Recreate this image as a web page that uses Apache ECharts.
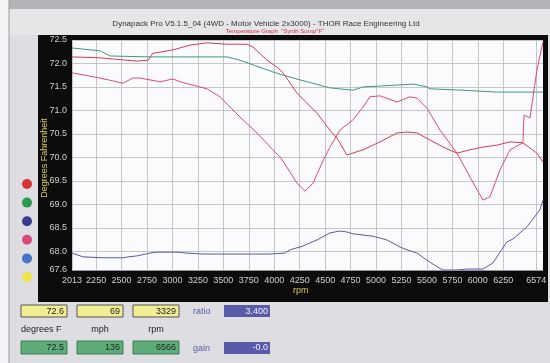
<!DOCTYPE html>
<html>
<head>
<meta charset="utf-8">
<script src="https://cdn.jsdelivr.net/npm/echarts@6/dist/echarts.min.js"></script>
<style>
html,body{margin:0;padding:0;background:#dedee2;}
#chart{width:550px;height:363px;}
</style>
</head>
<body>
<div id="chart"></div>
<script>
// ---- data ----
const xTicks = [2013, 2250, 2500, 2750, 3000, 3250, 3500, 3750, 4000, 4250, 4500, 4750, 5000, 5250, 5500, 5750, 6000, 6250, 6574];
const yTicks = [67.6, 68.0, 68.5, 69.0, 69.5, 70.0, 70.5, 71.0, 71.5, 72.0, 72.5];

const greenRpm  = [2013, 2288, 2386, 2760, 3536, 3663, 3987, 4086, 4322, 4547, 4773, 4872, 5039, 5372, 5500, 5530, 5854, 6188, 6640];
const greenTemp = [72.33, 72.27, 72.16, 72.14, 72.14, 72.07, 71.82, 71.75, 71.61, 71.48, 71.43, 71.50, 71.52, 71.56, 71.50, 71.46, 71.43, 71.39, 71.39];

const redRpm  = [2013, 2288, 2651, 2760, 2809, 2877, 3005, 3172, 3339, 3536, 3732, 3791, 3929, 4027, 4086, 4223, 4420, 4547, 4616, 4714, 4872, 5039, 5206, 5304, 5402, 5530, 5658, 5795, 5923, 6050, 6188, 6316, 6443, 6512, 6580, 6640];
const redTemp = [72.14, 72.12, 72.05, 72.07, 72.22, 72.24, 72.29, 72.39, 72.44, 72.41, 72.41, 72.35, 72.07, 71.92, 71.80, 71.37, 70.94, 70.58, 70.41, 70.05, 70.16, 70.33, 70.52, 70.54, 70.52, 70.37, 70.22, 70.09, 70.16, 70.22, 70.26, 70.33, 70.31, 70.20, 70.09, 69.90];

const pinkRpm  = [2013, 2288, 2514, 2612, 2681, 2779, 2877, 3005, 3074, 3339, 3467, 3663, 3830, 3987, 4056, 4125, 4223, 4302, 4380, 4469, 4547, 4646, 4773, 4872, 4940, 5039, 5206, 5333, 5402, 5500, 5628, 5795, 5923, 6050, 6119, 6217, 6316, 6443, 6453, 6512, 6580, 6640];
const pinkTemp = [71.80, 71.69, 71.58, 71.69, 71.69, 71.65, 71.61, 71.67, 71.61, 71.46, 71.29, 70.86, 70.52, 70.16, 70.01, 69.79, 69.45, 69.28, 69.45, 69.88, 70.22, 70.58, 70.80, 71.07, 71.29, 71.31, 71.18, 71.29, 71.26, 71.05, 70.58, 70.09, 69.58, 69.09, 69.16, 69.73, 70.16, 70.31, 70.90, 70.84, 71.86, 72.46];

const blueRpm  = [2013, 2121, 2318, 2514, 2563, 2651, 2779, 2848, 3044, 3143, 3300, 3467, 3791, 3958, 4105, 4155, 4282, 4351, 4420, 4547, 4646, 4714, 4773, 4970, 5107, 5235, 5304, 5402, 5500, 5598, 5658, 5795, 5893, 6050, 6148, 6217, 6286, 6345, 6482, 6610, 6640];
const blueTemp = [67.96, 67.88, 67.86, 67.86, 67.88, 67.90, 67.96, 67.98, 67.98, 67.96, 67.94, 67.94, 67.94, 67.94, 67.96, 68.03, 68.11, 68.18, 68.24, 68.39, 68.43, 68.41, 68.37, 68.32, 68.24, 68.09, 68.03, 67.96, 67.81, 67.67, 67.60, 67.60, 67.62, 67.62, 67.75, 67.98, 68.20, 68.26, 68.52, 68.88, 69.09];

const liveValues = ['72.6', '69', '3329'];
const peakValues = ['72.5', '136', '6566'];
const unitLabels = ['degrees F', 'mph', 'rpm'];
const ratioValue = '3.400';
const gainValue = '-0.0';

const titleText = 'Dynapack Pro V5.1.5_04 (4WD - Motor Vehicle 2x3000) - THOR Race Engineering Ltd';
const subTitleText = 'Temperature Graph  "Synth Sump\u00B0F"';
const yAxisTitle = 'Degrees Fahrenheit';
const xAxisTitle = 'rpm';

// ---- build ----
const zip = (a, b) => a.map((v, i) => [v, b[i]]);
const chart = echarts.init(document.getElementById('chart'), null, {renderer: 'canvas'});

const boxX = [21, 77, 133];
const graphics = [
  // page bits
  {type: 'rect', shape: {x: 0, y: 0, width: 550, height: 9}, style: {fill: '#b4b4b8'}, z: -10},
  {type: 'rect', shape: {x: 0, y: 9, width: 550, height: 26}, style: {fill: '#e6e6e8'}, z: -10},
  {type: 'rect', shape: {x: 0, y: 0, width: 9, height: 363}, style: {fill: '#f4f4f6'}, z: -9},
  {type: 'line', shape: {x1: 9, y1: 0, x2: 9, y2: 363}, style: {stroke: '#9a9a9e', lineWidth: 1}, z: -9},
  // black frame
  {type: 'rect', shape: {x: 38, y: 35, width: 510, height: 267}, style: {fill: '#0c0c0c'}, z: -5},
  {type: 'text', x: 266, y: 24, style: {text: titleText, fill: '#333', font: '8px Liberation Sans', align: 'center', verticalAlign: 'middle'}},
  {type: 'text', x: 275, y: 31, style: {text: subTitleText, fill: '#d03040', font: '6px Liberation Sans', align: 'center', verticalAlign: 'middle'}},
  {type: 'text', x: 293, y: 291, style: {text: xAxisTitle, fill: '#d8c860', font: '9px Liberation Sans', verticalAlign: 'middle'}},
  {type: 'text', x: 45, y: 158, rotation: Math.PI / 2, style: {text: yAxisTitle, fill: '#dcc860', font: '9px Liberation Sans', align: 'center', verticalAlign: 'middle'}},
];
// legend dots
const dotColors = ['#d83434', '#2a9a50', '#3a3a8e', '#d84a7a', '#4a72c8', '#f0e44a'];
dotColors.forEach((c, i) => {
  graphics.push({type: 'circle', shape: {cx: 27, cy: 184 + i * 18.6, r: 5}, style: {fill: c}});
});
// readout boxes
boxX.forEach((x, i) => {
  graphics.push({type: 'rect', shape: {x: x, y: 305, width: 46, height: 12}, style: {fill: '#f2ee94', stroke: '#555', lineWidth: 1}});
  graphics.push({type: 'text', x: x + 43, y: 311.5, style: {text: liveValues[i], fill: '#222', font: '9px Liberation Sans', align: 'right', verticalAlign: 'middle'}});
  graphics.push({type: 'text', x: i === 0 ? x : x + 23, y: 330, style: {text: unitLabels[i], fill: '#222', font: '9px Liberation Sans', align: i === 0 ? 'left' : 'center', verticalAlign: 'middle'}});
  graphics.push({type: 'rect', shape: {x: x, y: 341, width: 46, height: 13}, style: {fill: '#5cab78', stroke: '#3d7d55', lineWidth: 1}});
  graphics.push({type: 'text', x: x + 43, y: 347.5, style: {text: peakValues[i], fill: '#1a2a1a', font: '9px Liberation Sans', align: 'right', verticalAlign: 'middle'}});
});
graphics.push({type: 'text', x: 193, y: 312, style: {text: 'ratio', fill: '#5a5aa8', font: '9px Liberation Sans', verticalAlign: 'middle'}});
graphics.push({type: 'rect', shape: {x: 224, y: 305, width: 46, height: 12}, style: {fill: '#5a5aaa'}});
graphics.push({type: 'text', x: 268, y: 311.5, style: {text: ratioValue, fill: '#f0f0ff', font: '9px Liberation Sans', align: 'right', verticalAlign: 'middle'}});
graphics.push({type: 'text', x: 193, y: 349, style: {text: 'gain', fill: '#5a5aa8', font: '9px Liberation Sans', verticalAlign: 'middle'}});
graphics.push({type: 'rect', shape: {x: 224, y: 342, width: 46, height: 12}, style: {fill: '#5a5aaa'}});
graphics.push({type: 'text', x: 268, y: 348, style: {text: gainValue, fill: '#f0f0ff', font: '9px Liberation Sans', align: 'right', verticalAlign: 'middle'}});

const lineStyle = (c) => ({color: c, width: 1});
chart.setOption({
  animation: false,
  backgroundColor: '#dedee2',
  textStyle: {fontFamily: 'Liberation Sans'},
  graphic: graphics,
  grid: {left: 72, right: 7, top: 40, bottom: 93, show: true, backgroundColor: '#fbfbfd', borderWidth: 0},
  xAxis: {
    type: 'value', min: 2013, max: 6640,
    axisLine: {show: false},
    axisTick: {show: false, customValues: xTicks},
    axisLabel: {customValues: xTicks, color: '#cfcfcf', fontSize: 9, margin: 6, formatter: v => String(v)},
    splitLine: {show: true, lineStyle: {color: '#b8b8bf', width: 0.8}}
  },
  yAxis: {
    type: 'value', min: 67.6, max: 72.5,
    axisLine: {show: false},
    axisTick: {show: false, customValues: yTicks},
    axisLabel: {customValues: yTicks, color: '#cfcfcf', fontSize: 9, margin: 5, formatter: v => v.toFixed(1)},
    splitLine: {show: true, lineStyle: {color: '#b8b8bf', width: 0.8}}
  },
  series: [
    {type: 'line', data: zip(greenRpm, greenTemp), symbol: 'none', lineStyle: lineStyle('#3f9a74')},
    {type: 'line', data: zip(redRpm, redTemp), symbol: 'none', lineStyle: lineStyle('#d23c56')},
    {type: 'line', data: zip(pinkRpm, pinkTemp), symbol: 'none', lineStyle: lineStyle('#de4a70')},
    {type: 'line', data: zip(blueRpm, blueTemp), symbol: 'none', lineStyle: lineStyle('#5858a6')}
  ]
});
</script>
</body>
</html>
